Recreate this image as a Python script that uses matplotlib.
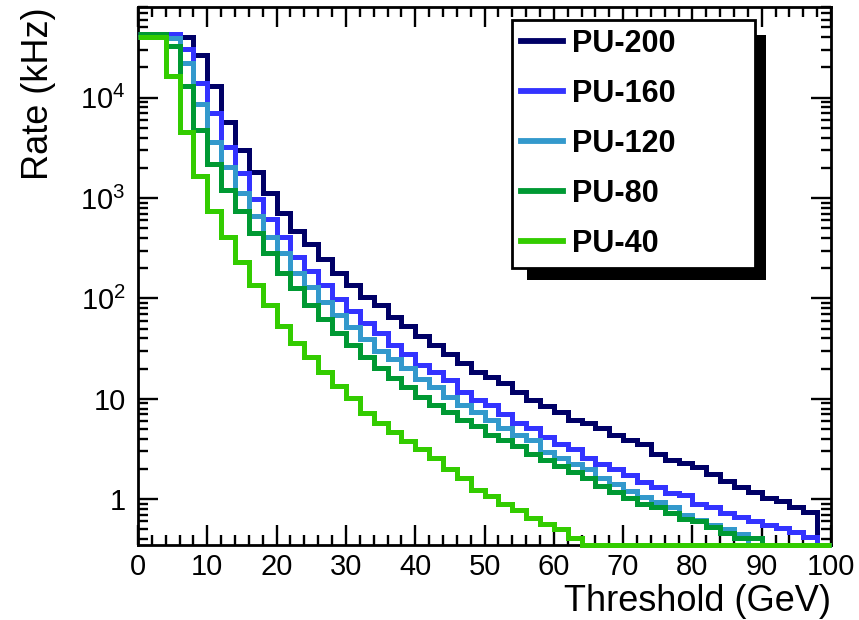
import numpy as np
import matplotlib
matplotlib.use("Agg")
import matplotlib.pyplot as plt
from matplotlib.lines import Line2D
from matplotlib.patches import Rectangle
from matplotlib.ticker import FixedLocator, LogLocator, MultipleLocator, NullFormatter
from matplotlib.transforms import IdentityTransform

plt.rcParams["font.family"] = ["Liberation Sans", "DejaVu Sans"]
plt.rcParams["mathtext.default"] = "regular"

# 2 GeV threshold bins from 0 to 100 GeV
bin_edges = np.arange(0, 101, 2)

labels = ["PU-200", "PU-160", "PU-120", "PU-80", "PU-40"]
colors = ["#000066", "#3333ff", "#3399cc", "#009933", "#33cc00"]

# rate (kHz) per bin; 0 = below the axis range
rate_pu200 = [39800, 39800, 39800, 39800, 26500, 13100, 5780, 3020, 1806, 1117,
              705, 470, 346, 245, 178, 136, 104, 86, 65.7, 53,
              42.2, 34.3, 28, 23, 18.6, 16.4, 14.4, 11.7, 9.7, 8.46,
              7.42, 6.13, 5.77, 5.07, 4.35, 3.87, 3.53, 2.81, 2.45, 2.27,
              2.1, 1.77, 1.52, 1.33, 1.18, 1.04, 0.96, 0.845, 0.74, 0]
rate_pu160 = [42700, 42700, 42700, 30400, 13950, 7110, 3210, 1790, 979, 619,
              412, 260, 189, 136, 98, 74.9, 57.3, 44.9, 34.3, 27.9,
              21.7, 18.6, 15.4, 11.8, 9.8, 8.6, 7.04, 5.69, 5.07, 4.12,
              3.53, 3.13, 2.6, 2.23, 1.98, 1.73, 1.49, 1.31, 1.16, 1.09,
              0.9, 0.83, 0.735, 0.67, 0.6, 0.55, 0.52, 0.47, 0.42, 0]
rate_pu120 = [39800, 39800, 39600, 22000, 8600, 3650, 2055, 1117, 663, 412,
              282, 178, 131, 92.7, 68.3, 51.5, 39.1, 30.1, 24.7, 20.1,
              15.6, 13.2, 10.4, 8.6, 7.4, 6.2, 5.07, 4.35, 3.87, 2.96,
              2.6, 2.23, 1.98, 1.61, 1.41, 1.21, 1.05, 0.94, 0.84, 0.70,
              0.62, 0.55, 0.50, 0.45, 0, 0, 0, 0, 0, 0]
rate_pu80 = [42700, 42700, 32500, 13000, 4780, 2170, 1205, 748, 445, 282,
             178, 128, 86, 61.9, 44.9, 34.3, 26.2, 20.1, 16.3, 13.0,
             10.5, 8.65, 7.42, 6.2, 5.35, 4.4, 3.87, 3.4, 2.79, 2.45,
             2.13, 1.87, 1.63, 1.35, 1.18, 1.04, 0.906, 0.84, 0.736, 0.64,
             0.61, 0.53, 0.466, 0.41, 0.41, 0, 0, 0, 0, 0]
rate_pu40 = [39800, 39800, 16500, 4530, 1670, 748, 412, 229, 136, 86,
             53, 36, 26.2, 18.6, 13.4, 10.3, 7.3, 5.69, 4.69, 3.81,
             3.13, 2.58, 1.98, 1.61, 1.24, 1.08, 0.89, 0.78, 0.645, 0.57,
             0.50, 0.41, 0, 0, 0, 0, 0, 0, 0, 0,
             0, 0, 0, 0, 0, 0, 0, 0, 0, 0]
rates = [rate_pu200, rate_pu160, rate_pu120, rate_pu80, rate_pu40]

y_min, y_max = 0.35, 8.0e4

fig = plt.figure(figsize=(8.59, 6.20), dpi=100)
ax = fig.add_axes([0.1607, 0.121, 0.8067, 0.8677])

for vals, c in zip(rates, colors):
    # ROOT draws empty / too-small bins along the bottom of the frame
    v = np.clip(np.asarray(vals, dtype=float), y_min, None)
    ax.stairs(v, bin_edges, baseline=None, color=c, lw=3.6,
              clip_on=False, zorder=3)

ax.set_yscale("log")
ax.set_xlim(0, 100)
ax.set_ylim(y_min, y_max)

ax.xaxis.set_major_locator(MultipleLocator(10))
ax.xaxis.set_minor_locator(MultipleLocator(2))
ax.yaxis.set_major_locator(FixedLocator([1, 10, 100, 1000, 10000]))
ax.set_yticklabels(["1", "10", "$10^{2}$", "$10^{3}$", "$10^{4}$"])
ax.yaxis.set_minor_locator(LogLocator(base=10, subs=np.arange(2, 10)))
ax.yaxis.set_minor_formatter(NullFormatter())

ax.tick_params(which="both", direction="in", top=True, right=True,
               width=1.7, labelsize=21)
ax.tick_params(which="major", length=14.4)
ax.tick_params(which="minor", length=7.2)
ax.tick_params(axis="x", pad=5.5)
ax.tick_params(axis="y", pad=9)
for s in ax.spines.values():
    s.set_linewidth(2.0)

ax.set_xlabel("Threshold (GeV)", fontsize=26, loc="right")
ax.xaxis.set_label_coords(1.0, -0.073)
ax.set_ylabel("Rate (kHz)", fontsize=26, loc="top")
ax.yaxis.set_label_coords(-0.118, 1.0)

handles = [Line2D([], [], color=c, lw=4.2) for c in colors]
leg = ax.legend(handles, labels, loc="upper left",
                bbox_to_anchor=(0.539, 0.5, 0.351, 0.476), mode="expand",
                borderaxespad=0, prop={"weight": "bold", "size": 22},
                handlelength=1.38, handletextpad=0.3, borderpad=0.3,
                labelspacing=0.65, fancybox=False, framealpha=1,
                edgecolor="black", facecolor="white")
leg.get_frame().set_linewidth(2.0)
leg.set_zorder(6)

# black drop shadow behind the legend box, ROOT style
fig.canvas.draw()
bb = leg.get_window_extent()
shadow = Rectangle((bb.x0 + 15, bb.y0 - 12), bb.width - 4, bb.height - 3,
                   transform=IdentityTransform(), facecolor="black",
                   edgecolor="none", zorder=5.5, clip_on=False)
ax.add_patch(shadow)

fig.savefig("out.png", dpi=100)
